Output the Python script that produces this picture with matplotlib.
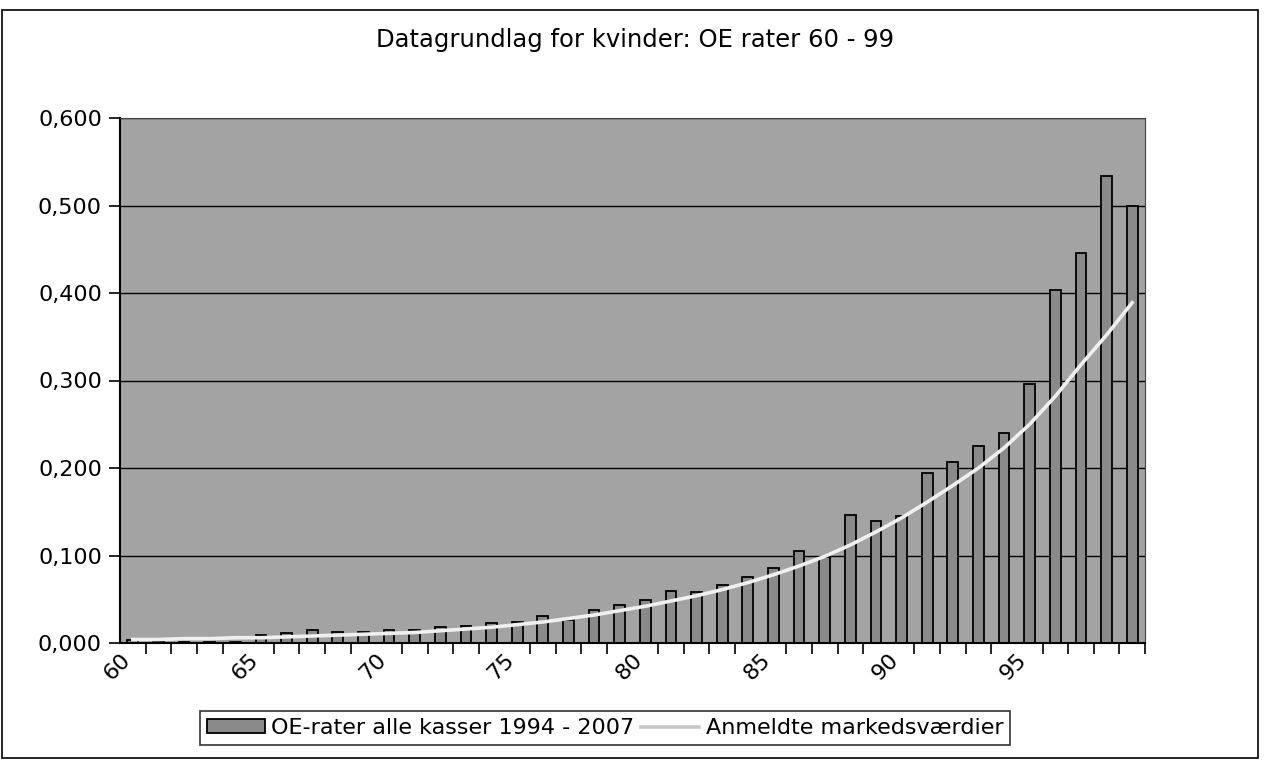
import numpy as np
import matplotlib.pyplot as plt
from matplotlib.ticker import FuncFormatter
from matplotlib.patches import Rectangle

ages = list(range(60, 100))
oe_rater = [0.003, 0.001, 0.001, 0.001, 0.001, 0.009, 0.011, 0.015, 0.013, 0.013,
            0.015, 0.015, 0.018, 0.020, 0.023, 0.024, 0.031, 0.026, 0.038, 0.044,
            0.049, 0.060, 0.058, 0.066, 0.075, 0.086, 0.105, 0.098, 0.146, 0.139,
            0.145, 0.194, 0.207, 0.225, 0.240, 0.296, 0.403, 0.446, 0.534, 0.499]
markedsvaerdier = [0.004, 0.004, 0.005, 0.005, 0.006, 0.006, 0.007, 0.008, 0.009, 0.010,
                   0.011, 0.012, 0.014, 0.016, 0.018, 0.021, 0.024, 0.028, 0.032, 0.037,
                   0.042, 0.048, 0.054, 0.061, 0.069, 0.078, 0.088, 0.099, 0.112, 0.127,
                   0.143, 0.161, 0.180, 0.200, 0.223, 0.250, 0.282, 0.318, 0.352, 0.389]
tick_ages = [60, 65, 70, 75, 80, 85, 90, 95]

fig = plt.figure(figsize=(12.65, 7.74), dpi=100)
ax = fig.add_axes([120 / 1265, 1 - 643 / 774, 1025 / 1265, 525 / 774])
x = np.arange(len(ages))

ax.set_facecolor('#a3a3a3')
bars = ax.bar(x, oe_rater, width=0.42, color='#8a8a8a', edgecolor='black', lw=1.3)
line, = ax.plot(x, markedsvaerdier, color='#f0f0f0', lw=2.6)

ax.set_xlim(-0.5, 39.5)
ax.set_ylim(0, 0.6)
ax.set_yticks(np.arange(0, 0.61, 0.1))
ax.yaxis.set_major_formatter(FuncFormatter(lambda v, p: f"{v:.3f}".replace('.', ',')))
ax.set_axisbelow(True)
ax.grid(axis='y', color='black', lw=1)

# labels sit at the category boundaries, like the Excel original
ax.set_xticks([ages.index(a) - 0.5 for a in tick_ages])
ax.set_xticklabels([str(a) for a in tick_ages], rotation=45, ha='right', va='top',
                   rotation_mode='anchor', fontsize=16)
ax.set_xticks(np.arange(-0.5, 40, 1), minor=True)
ax.tick_params(axis='x', which='major', length=0, pad=5)
ax.tick_params(axis='x', which='minor', length=8, width=1.2, direction='out')
ax.tick_params(axis='y', length=8, width=1.2, labelsize=16, pad=5)

for side in ['left', 'bottom']:
    ax.spines[side].set_linewidth(1.5)
for side in ['top', 'right']:
    ax.spines[side].set_color('#444444')
    ax.spines[side].set_linewidth(0.8)

fig.text(0.502, 0.948, "Datagrundlag for kvinder: OE rater 60 - 99",
         ha='center', va='center', fontsize=17.5)

leg = fig.legend([bars, line], ["OE-rater alle kasser 1994 - 2007", "Anmeldte markedsværdier"],
                 loc='center', bbox_to_anchor=(605 / 1265, 1 - 728 / 774), ncol=2,
                 fontsize=16, frameon=True, fancybox=False, edgecolor='black',
                 handlelength=2.6, handleheight=0.6, columnspacing=0.3,
                 handletextpad=0.3, borderpad=0.3)
leg.get_frame().set_linewidth(1.2)
leg.get_lines()[0].set_color('#c8c8c8')

fig.add_artist(Rectangle((2 / 1265, 1 - 758 / 774), 1256 / 1265, 748 / 774,
                         transform=fig.transFigure, fill=False, ec='black', lw=1.2))

fig.savefig("out.png", dpi=100)
